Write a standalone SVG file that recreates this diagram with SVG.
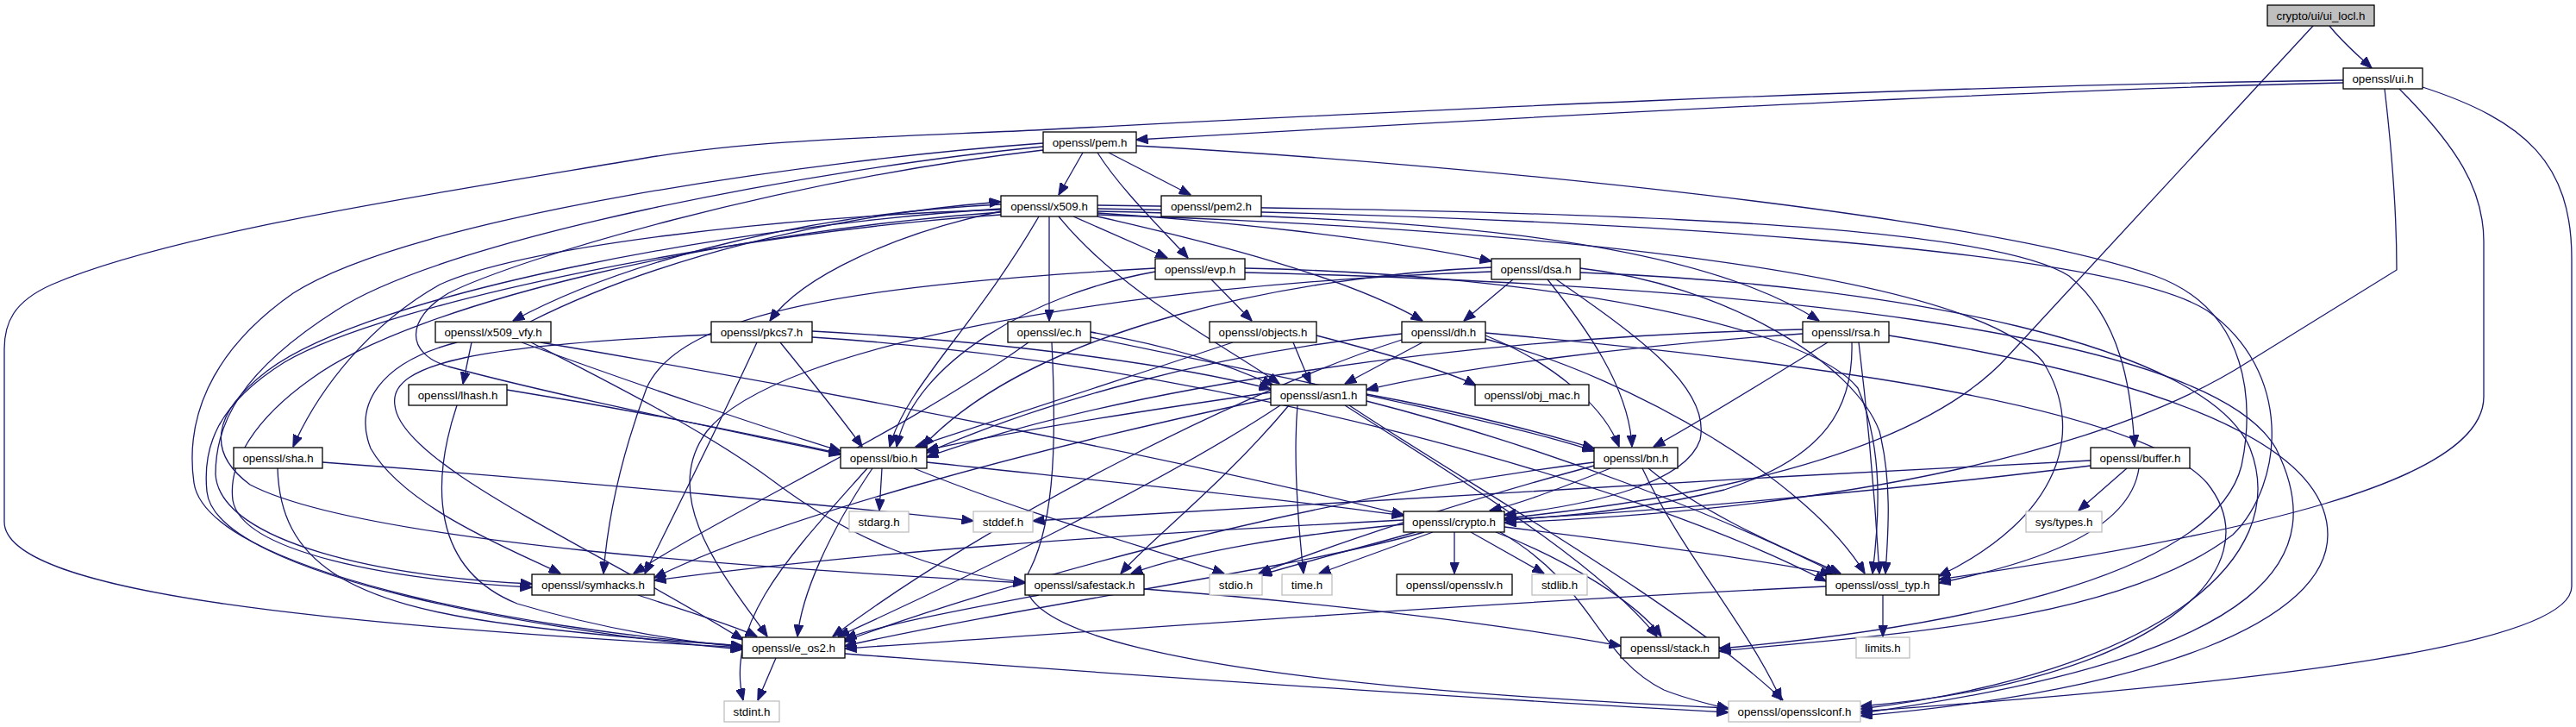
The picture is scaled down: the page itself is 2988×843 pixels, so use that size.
<svg xmlns="http://www.w3.org/2000/svg" width="2988" height="843" viewBox="0 0 2988 843">
<style>
.node rect{fill:#fff;stroke:#000;stroke-width:1.3}
.ext rect{stroke:#bfbfbf}
.root rect{fill:#bfbfbf}
text{font-family:"Liberation Sans",Arial,sans-serif;font-size:13.33px;text-anchor:middle;fill:#000}
.edges path{fill:none;stroke:#191970;stroke-width:1.3;marker-end:url(#ah)}
</style>
<defs>
<marker id="ah" markerUnits="userSpaceOnUse" markerWidth="14" markerHeight="11" viewBox="0 0 14 11" refX="13.5" refY="5.5" orient="auto"><path d="M0,0 L14,5.5 L0,11 z" fill="#191970" stroke="#191970" stroke-width="1"/></marker>
</defs>
<rect width="2988" height="843" fill="#fff"/>
<g id="edges" class="edges">
<path d="M2702,30 C2718,50 2735,64 2751,79"/>
<path d="M2683,30 L2330,412 C2260,490 2100,565 1745,601"/>
<path d="M2718,96 C2400,103 1900,128 1318,162"/>
<path d="M2718,93 C2200,100 1600,130 1200,151 C1000,160 870,163 750,183 C500,225 200,270 60,330 C15,350 5,375 5,405 L5,605 C5,690 400,725 861,751"/>
<path d="M2766,103 C2775,180 2780,250 2780,313 L2607,420 C2450,520 2150,590 1745,606"/>
<path d="M2783,103 C2850,170 2881,220 2881,280 L2881,460 C2881,560 2600,620 2249,672"/>
<path d="M2810,101 C2930,140 2983,190 2983,300 L2983,680 C2983,760 2500,800 2158,825"/>
<path d="M1256,177 L1228,226"/>
<path d="M1286,177 L1381,226"/>
<path d="M1273,177 C1300,220 1350,268 1378,299"/>
<path d="M1318,169 C1700,190 2300,250 2500,320 C2610,360 2615,470 2600,540 C2570,660 2300,725 1994,752"/>
<path d="M1210,166 C950,185 480,250 340,340 C240,410 215,490 225,560 C240,660 600,730 861,749"/>
<path d="M1210,170 C950,195 520,275 390,360 C280,430 250,490 250,550 C255,630 450,670 617,677"/>
<path d="M1210,174 C900,210 600,300 520,340 C470,370 470,410 520,425 C650,460 850,500 975,527"/>
<path d="M1161,237 C900,250 700,315 595,372"/>
<path d="M615,373 C760,300 960,250 1161,234"/>
<path d="M1161,243 C900,252 610,285 510,330 C430,375 370,450 340,518"/>
<path d="M1161,246 C850,268 480,350 360,440 C290,490 265,540 270,580 C280,640 450,672 617,681"/>
<path d="M1161,249 C850,270 450,350 330,420 C250,470 235,520 240,570 C250,670 650,735 861,753"/>
<path d="M1161,242 C850,262 430,340 310,430 C245,480 240,525 290,562 C420,630 900,660 1189,676"/>
<path d="M1161,245 C1040,270 930,320 893,372"/>
<path d="M1205,251 C1130,380 1050,450 1032,518"/>
<path d="M1217,251 L1217,372"/>
<path d="M1228,251 C1300,340 1420,400 1484,445"/>
<path d="M1245,251 L1354,299"/>
<path d="M1273,247 C1400,255 1600,275 1730,303"/>
<path d="M1273,251 C1400,280 1560,320 1650,372"/>
<path d="M1273,245 C1600,252 1950,268 2110,372"/>
<path d="M1273,238 C1800,245 2300,255 2400,320 C2460,370 2472,450 2476,518"/>
<path d="M1273,242 C1900,252 2450,290 2560,360 C2660,430 2650,560 2590,620 C2460,720 2200,735 1994,755"/>
<path d="M1273,249 C1900,270 2300,330 2370,420 C2420,500 2390,600 2249,668"/>
<path d="M1405,324 L1452,372"/>
<path d="M1340,315 C1200,340 1060,420 1040,518"/>
<path d="M1340,311 C1000,330 790,360 750,450 C720,530 705,600 700,665"/>
<path d="M1444,311 C1800,318 2100,380 2155,450 C2185,520 2180,600 2172,665"/>
<path d="M1444,316 C2000,330 2560,380 2640,520 C2700,640 2650,760 2158,827"/>
<path d="M1755,324 L1698,372"/>
<path d="M1795,324 C1840,380 1890,450 1893,518"/>
<path d="M1805,324 C1900,390 1985,450 1972,510 C1955,560 1850,585 1745,597"/>
<path d="M1730,310 C1500,320 1200,380 1070,518"/>
<path d="M1730,315 C1300,330 900,400 820,500 C760,580 850,680 890,738"/>
<path d="M1833,311 C2000,330 2150,420 2180,500 C2195,560 2190,620 2187,665"/>
<path d="M1833,316 C2200,330 2560,400 2610,520 C2660,650 2500,780 2158,822"/>
<path d="M1650,397 L1560,445"/>
<path d="M1723,389 C1800,420 1860,470 1878,518"/>
<path d="M1626,387 C1400,410 1200,470 1075,525"/>
<path d="M1626,394 C1450,450 1150,600 966,738"/>
<path d="M1723,393 C1900,440 2100,560 2163,665"/>
<path d="M1723,386 C2100,420 2480,470 2560,560 C2640,660 2500,790 2158,819"/>
<path d="M2091,387 C1900,400 1700,425 1585,452"/>
<path d="M2091,382 C1700,390 1300,450 1075,530"/>
<path d="M2120,397 C2050,440 1970,490 1918,518"/>
<path d="M2148,397 C2150,470 2120,530 2000,568 C1900,592 1800,600 1745,603"/>
<path d="M2156,397 C2166,480 2175,580 2180,665"/>
<path d="M2191,389 C2450,430 2700,500 2700,620 C2700,720 2500,800 2158,830"/>
<path d="M942,384 C1150,395 1350,420 1474,451"/>
<path d="M905,397 C940,440 980,490 1000,518"/>
<path d="M878,397 C840,480 790,580 748,665"/>
<path d="M825,388 C560,400 450,420 458,470 C465,540 700,640 862,742"/>
<path d="M942,391 C1400,420 1900,560 2118,674"/>
<path d="M1265,385 C1350,400 1420,420 1477,447"/>
<path d="M1265,391 C1500,440 1750,490 1849,523"/>
<path d="M1193,397 C1050,500 850,590 735,665"/>
<path d="M1220,397 C1225,500 1225,600 1195,660 C1160,720 1300,790 2005,821"/>
<path d="M1527,389 C1600,408 1680,430 1712,447"/>
<path d="M1500,397 L1520,445"/>
<path d="M1430,397 C1300,440 1150,490 1062,518"/>
<path d="M547,397 L537,445"/>
<path d="M605,397 C750,450 900,500 975,523"/>
<path d="M627,397 C1000,460 1400,540 1628,597"/>
<path d="M530,397 C440,420 410,470 430,520 C470,590 600,640 650,665"/>
<path d="M616,397 C700,440 820,500 900,560 C980,620 1080,665 1189,675"/>
<path d="M588,452 C750,478 880,505 975,526"/>
<path d="M530,470 C500,560 500,660 600,700 C700,730 800,745 861,750"/>
<path d="M1505,470 C1500,530 1505,600 1512,665"/>
<path d="M1485,470 C1350,560 1100,680 972,738"/>
<path d="M1474,455 C1300,480 1150,505 1075,522"/>
<path d="M1560,470 C1700,560 1850,650 1922,738"/>
<path d="M1495,470 C1420,560 1330,630 1300,665"/>
<path d="M1474,462 C1200,520 900,600 759,670"/>
<path d="M1585,465 C1800,520 2000,600 2130,665"/>
<path d="M1585,457 C1700,478 1800,505 1849,520"/>
<path d="M1565,470 C1700,560 1950,700 2068,812"/>
<path d="M1023,543 L1020,592"/>
<path d="M1012,543 C960,620 930,690 925,738"/>
<path d="M1006,543 C920,640 840,720 862,812"/>
<path d="M1060,543 C1200,600 1350,640 1420,665"/>
<path d="M1075,536 C1300,560 1500,580 1628,598"/>
<path d="M1849,536 C1500,580 1150,680 978,744"/>
<path d="M1849,540 C1700,580 1550,630 1460,665"/>
<path d="M1868,543 C1800,570 1760,585 1728,592"/>
<path d="M1912,543 C1980,600 2080,640 2135,665"/>
<path d="M1905,543 C1950,640 2030,730 2066,812"/>
<path d="M2425,534 C2000,555 1500,585 1198,604"/>
<path d="M2425,540 C2200,568 1900,595 1745,602"/>
<path d="M2467,543 L2411,592"/>
<path d="M2481,543 C2470,620 2350,655 2249,676"/>
<path d="M322,543 C325,650 400,700 600,725 C700,738 800,745 861,749"/>
<path d="M374,536 C700,560 1000,590 1129,604"/>
<path d="M1687,617 L1687,665"/>
<path d="M1706,617 L1791,665"/>
<path d="M1662,617 L1530,665"/>
<path d="M1642,617 C1560,640 1500,655 1462,667"/>
<path d="M1652,617 C1500,660 1200,700 980,749"/>
<path d="M1628,603 C1300,620 1000,640 759,673"/>
<path d="M1628,608 C1500,620 1380,640 1312,665"/>
<path d="M1735,617 C1820,650 1900,700 1927,738"/>
<path d="M1745,611 C1900,630 2050,650 2125,666"/>
<path d="M1740,617 C1850,680 1850,760 1930,800 C1960,812 1990,818 2005,822"/>
<path d="M740,690 C800,710 850,725 878,738"/>
<path d="M1327,683 C1550,700 1750,725 1880,749"/>
<path d="M1205,690 C1100,710 1020,725 980,741"/>
<path d="M2118,680 C1700,700 1300,730 980,752"/>
<path d="M2184,690 L2184,738"/>
<path d="M900,763 L879,812"/>
<path d="M980,758 C1400,790 1800,815 2005,826"/>
</g>
<g id="n_ui_locl" class="node root"><rect x="2630" y="6" width="124" height="24"/><text x="2692" y="22.5">crypto/ui/ui_locl.h</text></g>
<g id="n_ui" class="node"><rect x="2718" y="79" width="92" height="24"/><text x="2764" y="95.5">openssl/ui.h</text></g>
<g id="n_pem" class="node"><rect x="1210" y="153" width="108" height="24"/><text x="1264" y="169.5">openssl/pem.h</text></g>
<g id="n_x509" class="node"><rect x="1161" y="227" width="112" height="24"/><text x="1217" y="243.5">openssl/x509.h</text></g>
<g id="n_pem2" class="node"><rect x="1347" y="227" width="116" height="24"/><text x="1405" y="243.5">openssl/pem2.h</text></g>
<g id="n_evp" class="node"><rect x="1340" y="300" width="104" height="24"/><text x="1392" y="316.5">openssl/evp.h</text></g>
<g id="n_dsa" class="node"><rect x="1730" y="300" width="103" height="24"/><text x="1781.5" y="316.5">openssl/dsa.h</text></g>
<g id="n_x509_vfy" class="node"><rect x="505" y="373" width="134" height="24"/><text x="572" y="389.5">openssl/x509_vfy.h</text></g>
<g id="n_pkcs7" class="node"><rect x="825" y="373" width="117" height="24"/><text x="883.5" y="389.5">openssl/pkcs7.h</text></g>
<g id="n_ec" class="node"><rect x="1169" y="373" width="96" height="24"/><text x="1217" y="389.5">openssl/ec.h</text></g>
<g id="n_objects" class="node"><rect x="1403" y="373" width="124" height="24"/><text x="1465" y="389.5">openssl/objects.h</text></g>
<g id="n_dh" class="node"><rect x="1626" y="373" width="97" height="24"/><text x="1674.5" y="389.5">openssl/dh.h</text></g>
<g id="n_rsa" class="node"><rect x="2091" y="373" width="100" height="24"/><text x="2141" y="389.5">openssl/rsa.h</text></g>
<g id="n_lhash" class="node"><rect x="474" y="446" width="114" height="24"/><text x="531" y="462.5">openssl/lhash.h</text></g>
<g id="n_asn1" class="node"><rect x="1474" y="446" width="111" height="24"/><text x="1529.5" y="462.5">openssl/asn1.h</text></g>
<g id="n_obj_mac" class="node"><rect x="1711" y="446" width="132" height="24"/><text x="1777" y="462.5">openssl/obj_mac.h</text></g>
<g id="n_sha" class="node"><rect x="271" y="519" width="103" height="24"/><text x="322.5" y="535.5">openssl/sha.h</text></g>
<g id="n_bio" class="node"><rect x="975" y="519" width="100" height="24"/><text x="1025" y="535.5">openssl/bio.h</text></g>
<g id="n_bn" class="node"><rect x="1849" y="519" width="97" height="24"/><text x="1897.5" y="535.5">openssl/bn.h</text></g>
<g id="n_buffer" class="node"><rect x="2425" y="519" width="115" height="24"/><text x="2482.5" y="535.5">openssl/buffer.h</text></g>
<g id="n_stdarg" class="node ext"><rect x="985" y="593" width="69" height="24"/><text x="1019.5" y="609.5">stdarg.h</text></g>
<g id="n_stddef" class="node ext"><rect x="1129" y="593" width="69" height="24"/><text x="1163.5" y="609.5">stddef.h</text></g>
<g id="n_crypto" class="node"><rect x="1628" y="593" width="117" height="24"/><text x="1686.5" y="609.5">openssl/crypto.h</text></g>
<g id="n_systypes" class="node ext"><rect x="2350" y="593" width="88" height="24"/><text x="2394" y="609.5">sys/types.h</text></g>
<g id="n_symhacks" class="node"><rect x="617" y="666" width="142" height="24"/><text x="688" y="682.5">openssl/symhacks.h</text></g>
<g id="n_safestack" class="node"><rect x="1189" y="666" width="138" height="24"/><text x="1258" y="682.5">openssl/safestack.h</text></g>
<g id="n_stdio" class="node ext"><rect x="1403" y="666" width="61" height="24"/><text x="1433.5" y="682.5">stdio.h</text></g>
<g id="n_time" class="node ext"><rect x="1487" y="666" width="58" height="24"/><text x="1516" y="682.5">time.h</text></g>
<g id="n_opensslv" class="node"><rect x="1620" y="666" width="134" height="24"/><text x="1687" y="682.5">openssl/opensslv.h</text></g>
<g id="n_stdlib" class="node ext"><rect x="1777" y="666" width="64" height="24"/><text x="1809" y="682.5">stdlib.h</text></g>
<g id="n_ossl_typ" class="node"><rect x="2118" y="666" width="131" height="24"/><text x="2183.5" y="682.5">openssl/ossl_typ.h</text></g>
<g id="n_e_os2" class="node"><rect x="861" y="739" width="119" height="24"/><text x="920.5" y="755.5">openssl/e_os2.h</text></g>
<g id="n_stack" class="node"><rect x="1880" y="739" width="114" height="24"/><text x="1937" y="755.5">openssl/stack.h</text></g>
<g id="n_limits" class="node ext"><rect x="2153" y="739" width="62" height="24"/><text x="2184" y="755.5">limits.h</text></g>
<g id="n_stdint" class="node ext"><rect x="840" y="813" width="64" height="24"/><text x="872" y="829.5">stdint.h</text></g>
<g id="n_opensslconf" class="node ext"><rect x="2005" y="813" width="153" height="24"/><text x="2081.5" y="829.5">openssl/opensslconf.h</text></g>
</svg>
